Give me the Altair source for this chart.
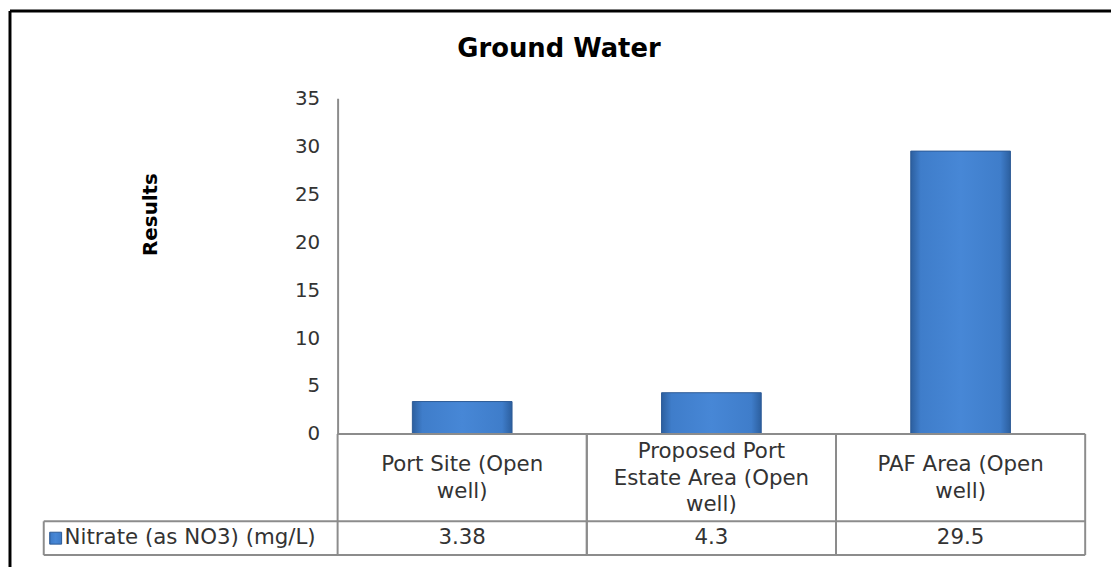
import altair as alt
import pandas as pd

categories = ["Port Site (Open well)", "Proposed Port Estate Area (Open well)", "PAF Area (Open well)"]
header_labels = ["Port Site (Open\nwell)", "Proposed Port\nEstate Area (Open\nwell)", "PAF Area (Open\nwell)"]
values = [3.38, 4.3, 29.5]
value_labels = ["3.38", "4.3", "29.5"]
series_name = "Nitrate (as NO3) (mg/L)"
y_ticks = [0, 5, 10, 15, 20, 25, 30, 35]
title_text = "Ground Water"
y_title = "Results"

FONT = "DejaVu Sans"
W, H = 753, 338
GRID = "#8c8c8c"
LH = 27
BODY = 21.5

df = pd.DataFrame({"cat": categories, "hdr": header_labels, "val": values, "vlab": value_labels})
df["off"] = [-(s.count("\n")) * LH / 2 for s in header_labels]
one = pd.DataFrame({"k": [0]})

xscale = alt.Scale(domain=categories, paddingInner=0, paddingOuter=0)

bar_fill = alt.Gradient(
    gradient="linear",
    stops=[alt.GradientStop(color="#2c5f9f", offset=0),
           alt.GradientStop(color="#3f7dca", offset=0.1),
           alt.GradientStop(color="#4787d6", offset=0.5),
           alt.GradientStop(color="#3f7dca", offset=0.9),
           alt.GradientStop(color="#2c5f9f", offset=1)],
    x1=0, x2=1, y1=0, y2=0,
)

base = alt.Chart(df)

bars = base.mark_bar(width={"band": 0.4}, fill=bar_fill, stroke="#2d5b96", strokeWidth=1).encode(
    x=alt.X("cat:N", scale=xscale, axis=None, sort=categories),
    y=alt.Y("val:Q", scale=alt.Scale(domain=[0, 35], nice=False, zero=True),
            axis=alt.Axis(values=y_ticks, grid=False, ticks=False, domainColor=GRID, domainWidth=2,
                          labelFont=FONT, labelFontSize=20, labelColor="#333333", labelPadding=18,
                          title=None)),
)

vrule_left = base.mark_rule(color=GRID, strokeWidth=2).encode(
    x=alt.X("cat:N", scale=xscale, axis=None, sort=categories, bandPosition=0),
    y=alt.value(H), y2=alt.value(H + 122),
)
vrule_right = base.mark_rule(color=GRID, strokeWidth=2).encode(
    x=alt.X("cat:N", scale=xscale, axis=None, sort=categories, bandPosition=1),
    y=alt.value(H), y2=alt.value(H + 122),
)

hdr_text = base.mark_text(font=FONT, fontSize=BODY, color="#333333", lineBreak="\n", lineHeight=LH,
                          baseline="middle", align="center").encode(
    x=alt.X("cat:N", scale=xscale, axis=None, sort=categories),
    y=alt.value(H + 45),
    yOffset=alt.YOffset("off:Q", scale=None),
    text="hdr:N",
)
val_text = base.mark_text(font=FONT, fontSize=BODY, color="#333333", baseline="middle", align="center").encode(
    x=alt.X("cat:N", scale=xscale, axis=None, sort=categories),
    y=alt.value(H + 105), text="vlab:N",
)

oc = alt.Chart(one)
h_top = oc.mark_rule(color=GRID, strokeWidth=2).encode(x=alt.value(0), x2=alt.value(W), y=alt.value(H))
h_mid = oc.mark_rule(color=GRID, strokeWidth=2).encode(x=alt.value(-296), x2=alt.value(W), y=alt.value(H + 88))
h_bot = oc.mark_rule(color=GRID, strokeWidth=2).encode(x=alt.value(-296), x2=alt.value(W), y=alt.value(H + 122))
v_leg = oc.mark_rule(color=GRID, strokeWidth=2).encode(x=alt.value(-296), y=alt.value(H + 88), y2=alt.value(H + 122))

leg_sq = oc.mark_rect(fill=bar_fill, stroke="#2d5b96", strokeWidth=1).encode(
    x=alt.value(-290), x2=alt.value(-278), y=alt.value(H + 99), y2=alt.value(H + 111))
leg_txt = oc.mark_text(font=FONT, fontSize=BODY, color="#333333", baseline="middle", align="left").encode(
    x=alt.value(-275), y=alt.value(H + 105), text=alt.value(series_name))

title = oc.mark_text(font=FONT, fontSize=26, fontWeight="bold", color="#000000", baseline="middle", align="center").encode(
    x=alt.value(223), y=alt.value(-50), text=alt.value(title_text))
ytitle = oc.mark_text(font=FONT, fontSize=20, fontWeight="bold", color="#000000", baseline="middle",
                      align="center", angle=270).encode(
    x=alt.value(-188), y=alt.value(117), text=alt.value(y_title))

border_l = oc.mark_rule(color="#000000", strokeWidth=3).encode(x=alt.value(-330), y=alt.value(-88), y2=alt.value(H + 140))
border_t = oc.mark_rule(color="#000000", strokeWidth=3).encode(x=alt.value(-330), x2=alt.value(W + 30), y=alt.value(-88))

chart = alt.layer(
    bars, h_top, h_mid, h_bot, v_leg, vrule_left, vrule_right, hdr_text, val_text,
    leg_sq, leg_txt, title, ytitle, border_l, border_t,
).properties(
    width=W, height=H,
    autosize=alt.AutoSizeParams(type="none"),
    padding={"left": 332, "top": 89, "right": 26, "bottom": 132},
    background="white",
).configure_view(stroke=None, strokeWidth=0)

chart.save("out.html", embed_options={"renderer": "svg", "actions": False})
